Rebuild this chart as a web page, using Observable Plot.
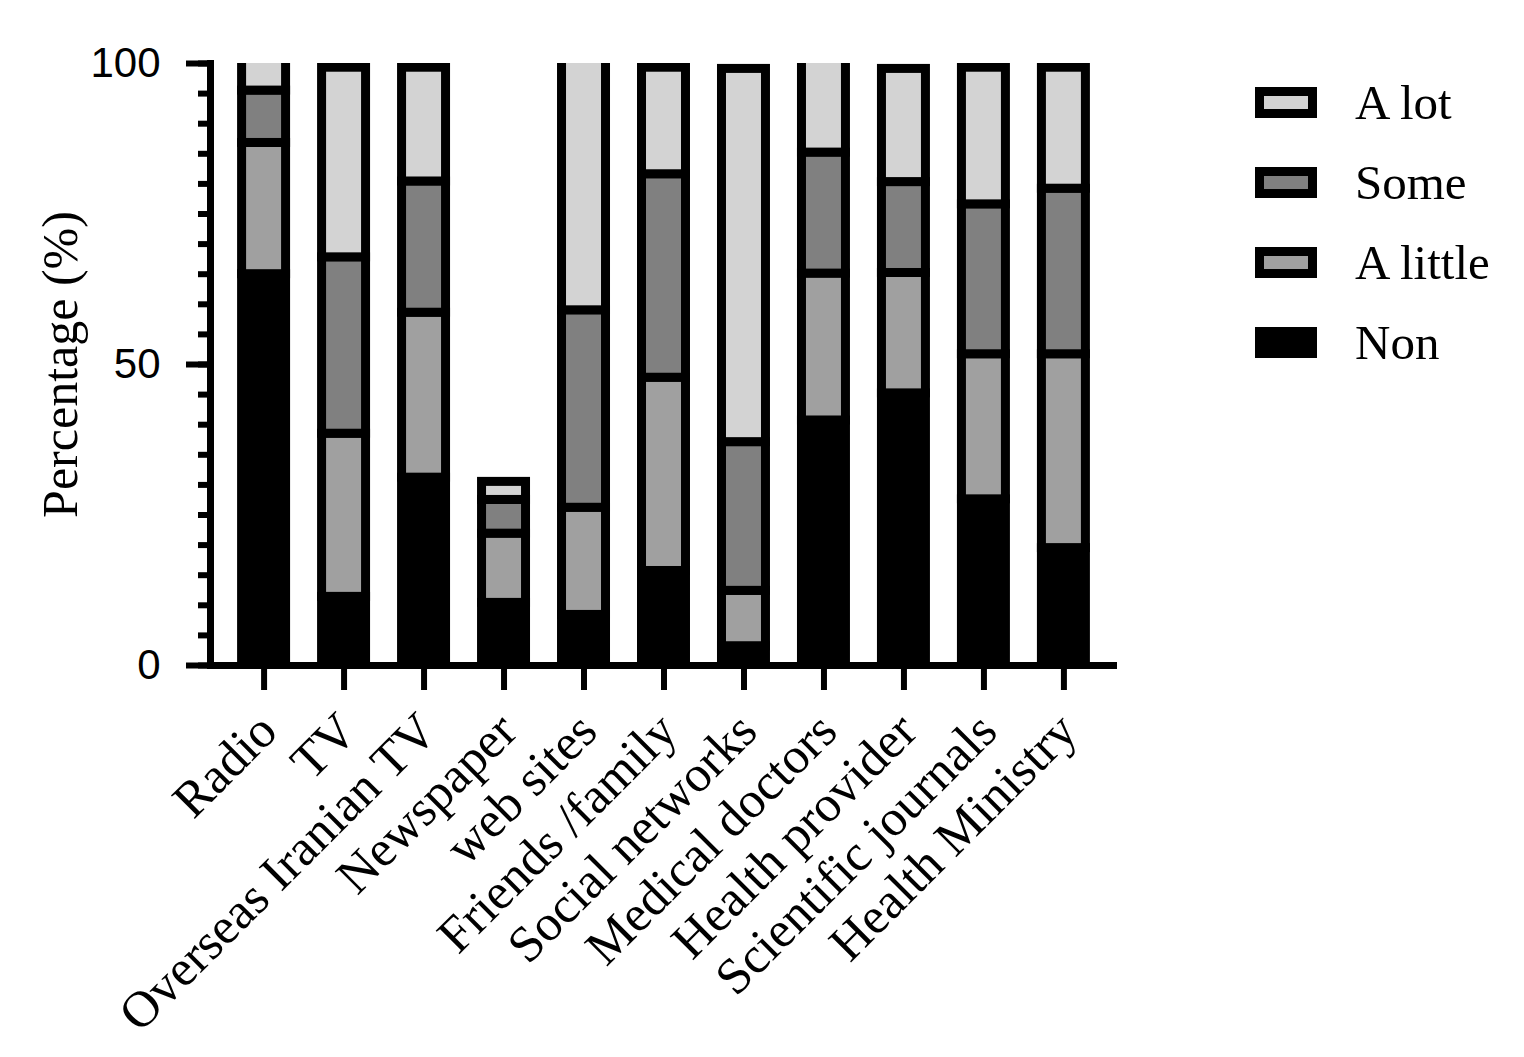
<!DOCTYPE html>
<html>
<head>
<meta charset="utf-8">
<script src="https://cdn.jsdelivr.net/npm/d3@7"></script>
<script src="https://cdn.jsdelivr.net/npm/@observablehq/plot@0.6"></script>
<style>
  html, body { margin: 0; padding: 0; background: #fff; }
  #wrap { position: relative; width: 1524px; height: 1057px; }
  #legend { position: absolute; left: 1255px; top: 62px; font-family: "Liberation Serif", "Times New Roman", serif; font-size: 49px; color: #000; }
  .item { display: flex; align-items: center; height: 80px; }
  .sw { box-sizing: border-box; width: 62px; height: 31px; border: 9px solid #000; margin-right: 38px; }
</style>
</head>
<body>
<div id="wrap"><div id="legend"></div></div>
<script>
const categories = ["Radio", "TV", "Overseas Iranian TV", "Newspaper", "web sites", "Friends /family", "Social networks", "Medical doctors", "Health provider", "Scientific journals", "Health Ministry"];
const levels = ["Non", "A little", "Some", "A lot"];
const levelColors = ["#000000", "#a0a0a0", "#808080", "#d3d3d3"];
const non     = [65.0, 11.4, 31.2, 10.4,  8.4, 15.7,  3.2, 40.7, 45.2, 27.6, 19.5];
const aLittle = [21.8, 27.1, 27.4, 11.5, 17.8, 32.1,  9.2, 24.4, 20.0, 24.1, 32.2];
const some    = [ 8.7, 29.3, 21.8,  5.6, 32.8, 33.8, 24.7, 20.1, 15.1, 24.9, 27.5];
const aLot    = [ 6.5, 31.5, 18.9,  3.0, 42.0, 17.7, 62.0, 16.0, 18.8, 22.7, 20.1];
const yTicks = [0, 50, 100];
const yMinorTicks = d3.range(0, 101, 5);
const yLabel = "Percentage (%)";

const series = [non, aLittle, some, aLot];
const data = [];
categories.forEach((c, i) => {
  levels.forEach((l, j) => data.push({source: c, level: l, value: series[j][i]}));
});

const serif = "'Liberation Serif', 'Times New Roman', serif";
const sans = "'Liberation Sans', Arial, sans-serif";

const chart = Plot.plot({
  width: 1524,
  height: 1057,
  marginTop: 63,
  marginBottom: 392,
  marginLeft: 210,
  marginRight: 407,
  style: {background: "transparent", color: "#000"},
  x: {domain: categories, paddingInner: 0, paddingOuter: 0.17, round: false, label: null},
  y: {domain: [0, 100], label: null},
  color: {domain: levels, range: levelColors},
  marks: [
    Plot.barY(data, Plot.stackY({
      x: "source", y: "value", fill: "level", order: levels,
      stroke: "#000", strokeWidth: 9, insetLeft: 18, insetRight: 18, clip: true
    })),
    Plot.axisY({ticks: yMinorTicks, tickSize: 12, strokeWidth: 6, tickFormat: () => ""}),
    Plot.axisY({ticks: yTicks, tickSize: 24, tickPadding: 26, strokeWidth: 6,
      fontSize: 42, fontFamily: sans, label: null}),
    Plot.axisX({tickSize: 25, strokeWidth: 6, tickFormat: () => "", label: null}),
    Plot.axisX({tickSize: 0, tickPadding: 57, tickRotate: -45,
      fontSize: 51, fontFamily: serif, label: null, dx: 4}),
    Plot.frame({anchor: "left", strokeWidth: 7}),
    Plot.ruleY([0], {strokeWidth: 7}),
    Plot.text([yLabel], {frameAnchor: "left", dx: -150, rotate: -90, fontSize: 50,
      fontFamily: serif, textAnchor: "middle", lineAnchor: "middle"})
  ]
});
document.getElementById("wrap").prepend(chart);
chart.style.position = "absolute";
chart.style.left = "0";
chart.style.top = "0";

const legend = document.getElementById("legend");
const legendOrder = ["A lot", "Some", "A little", "Non"];
legendOrder.forEach(l => {
  const item = document.createElement("div");
  item.className = "item";
  const sw = document.createElement("div");
  sw.className = "sw";
  sw.style.background = levelColors[levels.indexOf(l)];
  const t = document.createElement("span");
  t.textContent = l;
  item.appendChild(sw);
  item.appendChild(t);
  legend.appendChild(item);
});
</script>
</body>
</html>
